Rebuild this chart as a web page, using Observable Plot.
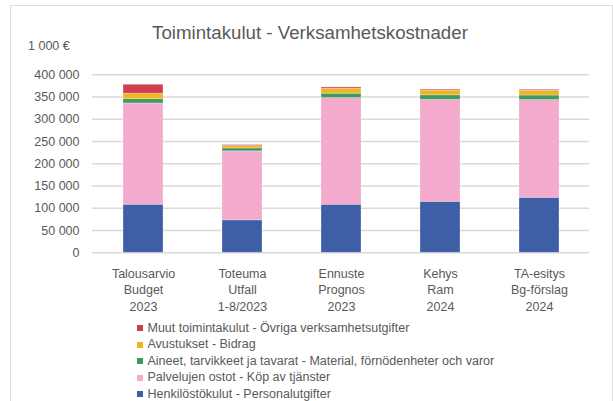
<!DOCTYPE html>
<html>
<head>
<meta charset="utf-8">
<script src="https://cdn.jsdelivr.net/npm/d3@7"></script>
<script src="https://cdn.jsdelivr.net/npm/@observablehq/plot@0.6"></script>
<style>
  html, body { margin: 0; padding: 0; background: #fff; }
  body { width: 613px; height: 401px; position: relative; overflow: hidden;
         font-family: "Liberation Sans", Arial, sans-serif; color: #595959; }
  #frame { position: absolute; left: 10px; top: 5px; width: 603px; height: 430px;
           box-sizing: border-box; border: 1.5px solid #dedede; }
  #chart { position: absolute; left: 0; top: 0; }
  #title { position: absolute; left: 0; width: 620px; top: 23.5px; text-align: center;
           font-size: 18.7px; line-height: 1; white-space: nowrap; }
  #unit { position: absolute; left: 28px; top: 39.6px; font-size: 12.5px; line-height: 1; white-space: nowrap; }
  #legend { position: absolute; left: 137px; top: 319.5px; font-size: 12.5px; }
  .row { display: flex; align-items: center; height: 16.5px; line-height: 16.5px; white-space: nowrap; }
  .sw { width: 6px; height: 6px; margin-right: 4.5px; margin-top: 1px; }
</style>
</head>
<body>
<div id="frame"></div>
<div id="chart"></div>
<div id="title">Toimintakulut - Verksamhetskostnader</div>
<div id="unit">1 000 €</div>
<div id="legend"></div>
<script>
// Categories (x axis, three label lines)
const categories = ["Talousarvio", "Toteuma", "Ennuste", "Kehys", "TA-esitys"];
const subLabels = ["Budget", "Utfall", "Prognos", "Ram", "Bg-förslag"];
const periods = ["2023", "1-8/2023", "2023", "2024", "2024"];

// Series, bottom to top
const seriesNames = [
  "Henkilöstökulut - Personalutgifter",
  "Palvelujen ostot - Köp av tjänster",
  "Aineet, tarvikkeet ja tavarat - Material, förnödenheter och varor",
  "Avustukset - Bidrag",
  "Muut toimintakulut - Övriga verksamhetsutgifter"
];
const seriesColors = ["#3e5fa6", "#f3aacd", "#3d9a62", "#efb71b", "#d0404f"];

// Values (1 000 €)
const henkilostokulut = [108000, 73000, 108000, 114600, 123600];
const palvelujenOstot = [227600, 155000, 239600, 229000, 219500];
const aineet = [9700, 6700, 9900, 10300, 10300];
const avustukset = [12100, 5200, 11200, 10600, 10600];
const muut = [20200, 2200, 2900, 2200, 2200];

// Y tick values
const yTicks = [0, 50000, 100000, 150000, 200000, 250000, 300000, 350000, 400000];

const seriesValues = [henkilostokulut, palvelujenOstot, aineet, avustukset, muut];
const labels = categories.map((c, i) => c + "\n" + subLabels[i] + "\n" + periods[i]);
const data = [];
labels.forEach((lab, i) => {
  seriesNames.forEach((s, j) => data.push({cat: lab, series: s, value: seriesValues[j][i]}));
});

const fmt = d => d3.format(",")(d).replace(/,/g, " ");

const chart = Plot.plot({
  width: 613,
  height: 318,
  marginLeft: 92,
  marginRight: 24,
  marginTop: 74.3,
  marginBottom: 65.7,
  style: {fontFamily: '"Liberation Sans", Arial, sans-serif', fontSize: "12.5px", color: "#595959", background: "transparent"},
  x: {domain: labels, paddingInner: 0.6, paddingOuter: 0.3},
  y: {domain: [0, 400000]},
  color: {domain: seriesNames, range: seriesColors},
  marks: [
    Plot.ruleY(yTicks, {stroke: "#d9d9d9", strokeWidth: 1.5}),
    Plot.barY(data, {x: "cat", y: "value", fill: "series", stroke: "white", strokeOpacity: 0.35, strokeWidth: 0.8}),
    Plot.axisY({ticks: yTicks, tickSize: 0, tickPadding: 13, tickFormat: fmt, label: null, fontSize: 12.5}),
    Plot.axisX({tickSize: 0, tickPadding: 13, label: null, fontSize: 12.5, lineHeight: 1.336, tickFormat: d => d})
  ]
});
document.getElementById("chart").appendChild(chart);

const legend = document.getElementById("legend");
[...seriesNames].reverse().forEach((s) => {
  const j = seriesNames.indexOf(s);
  const row = document.createElement("div");
  row.className = "row";
  const sw = document.createElement("span");
  sw.className = "sw";
  sw.style.background = seriesColors[j];
  const t = document.createElement("span");
  t.textContent = s;
  row.appendChild(sw);
  row.appendChild(t);
  legend.appendChild(row);
});
</script>
</body>
</html>
